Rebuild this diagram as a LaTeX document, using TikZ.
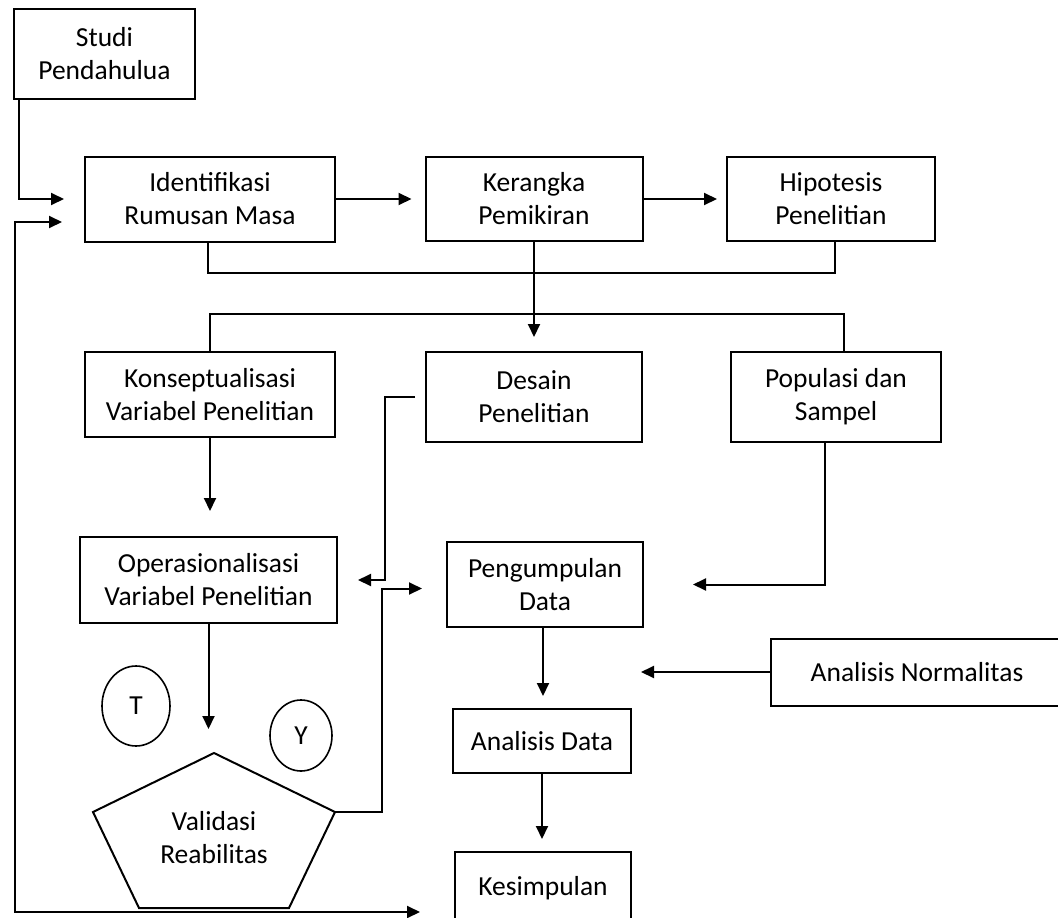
\documentclass[tikz,border=0pt]{standalone}
\usepackage{fontspec}
\setmainfont{Carlito}
\usetikzlibrary{arrows.meta,shapes.geometric,positioning}

\begin{document}
\begin{tikzpicture}[x=1pt,y=-1pt]
  \tikzset{ box/.style={draw,line width=2pt,align=center,inner sep=0pt,font=\fontsize{27.5}{33}\selectfont},
    oval/.style={draw,ellipse,line width=1.6pt,inner sep=0pt,font=\fontsize{27.5}{33}\selectfont},
    ln/.style={line width=2pt},
    >={Triangle[length=13pt,width=12pt]},
  }
  \useasboundingbox (0,0) rectangle (1058,918);

  \node[box,minimum width=181pt,minimum height=90pt] (studi) at (104.5,54) {Studi\\Pendahulua};
  \node[box,minimum width=250pt,minimum height=85pt] (ident) at (210,199) {Identifikasi\\Rumusan Masa};
  \node[box,minimum width=217pt,minimum height=84pt] (kerang) at (534,199) {Kerangka\\Pemikiran};
  \node[box,minimum width=208pt,minimum height=84pt] (hipo) at (831,199) {Hipotesis\\Penelitian};

  \node[box,minimum width=250pt,minimum height=85pt] (konsep) at (210,394.5) {Konseptualisasi\\Variabel Penelitian};
  \node[box,minimum width=216pt,minimum height=90pt] (desain) at (534,397) {Desain\\Penelitian};
  \node[box,minimum width=210pt,minimum height=90pt] (popul) at (836,397) {Populasi dan\\Sampel};

  \node[box,minimum width=257pt,minimum height=86pt] (opera) at (208.5,580) {Operasionalisasi\\Variabel Penelitian};
  \node[box,minimum width=196pt,minimum height=85pt] (pengum) at (545,584.5) {Pengumpulan\\Data};
  \node[box,minimum width=292pt,minimum height=67pt] (norm) at (917,672) {Analisis Normalitas};
  \node[box,minimum width=178pt,minimum height=64pt] (adata) at (542,741) {Analisis Data};
  \node[box,minimum width=176pt,minimum height=72pt] (kesim) at (543,888) {Kesimpulan};

  \node[oval,minimum width=68pt,minimum height=80pt] (t) at (136,706) {T};
  \node[oval,minimum width=62pt,minimum height=71pt] (y) at (301,735.5) {Y};

  % the pentagon
  \coordinate (p1) at (214,753);
  \coordinate (p2) at (335,812);
  \coordinate (p3) at (289,908);
  \coordinate (p4) at (139,908);
  \coordinate (p5) at (93,812);
  \draw[ln] (p1) -- (p2) -- (p3) -- (p4) -- (p5) -- cycle;
  \node[font=\fontsize{27.5}{33}\selectfont,align=center,inner sep=0pt] (valid) at (214,838) {Validasi\\Reabilitas};

  \coordinate (j1) at (0,273);
  \coordinate (j2) at (0,314);
  \coordinate (d1) at (385,397);
  \coordinate (v1) at (382,812);
  \coordinate (back) at (420,912);
  \coordinate (lc) at (15,912);

  % the connection between the boxes
  \draw[ln,->] ([xshift=6pt]studi.south west) |- ([xshift=-20pt]ident.west);
  \draw[ln,<->] ([xshift=-22pt,yshift=-23pt]ident.west) -| (lc) -- (back);
  \draw[ln,->,shorten >=13pt] (ident.east) -- (kerang.west);
  \draw[ln,->,shorten >=9pt] (kerang.east) -- (hipo.west);
  \draw[ln] ([xshift=-2pt]ident.south) -- ([xshift=-2pt]ident.south |- j1) -| ([xshift=4pt]hipo.south);
  \draw[ln,->,shorten >=14pt] (kerang.south) -- (desain.north);
  \draw[ln] (konsep.north) -- (konsep.north |- j2) -| ([xshift=8pt]popul.north);
  \draw[ln,->,shorten >=25pt] (konsep.south) -- (konsep.south |- opera.north);
  \draw[ln,->] ([xshift=-10pt]desain.west) -- (d1) |- ([xshift=20pt]opera.east);
  \draw[ln,->,shorten >=24pt] (opera.south) -- (opera.south |- p1);
  \draw[ln,->] (p2) -- (v1) |- ([xshift=-24pt,yshift=-4pt]pengum.west);
  \draw[ln,->] ([xshift=-11pt]popul.south) |- ([xshift=49pt]pengum.east);
  \draw[ln,->,shorten >=12pt] ([xshift=-2pt]pengum.south) -- ([xshift=-2pt]pengum.south |- adata.north);
  \draw[ln,->] (norm.west) -- ([xshift=-129pt]norm.west);
  \draw[ln,->,shorten >=12pt] (adata.south) -- (adata.south |- kesim.north);
\end{tikzpicture}
\end{document}
